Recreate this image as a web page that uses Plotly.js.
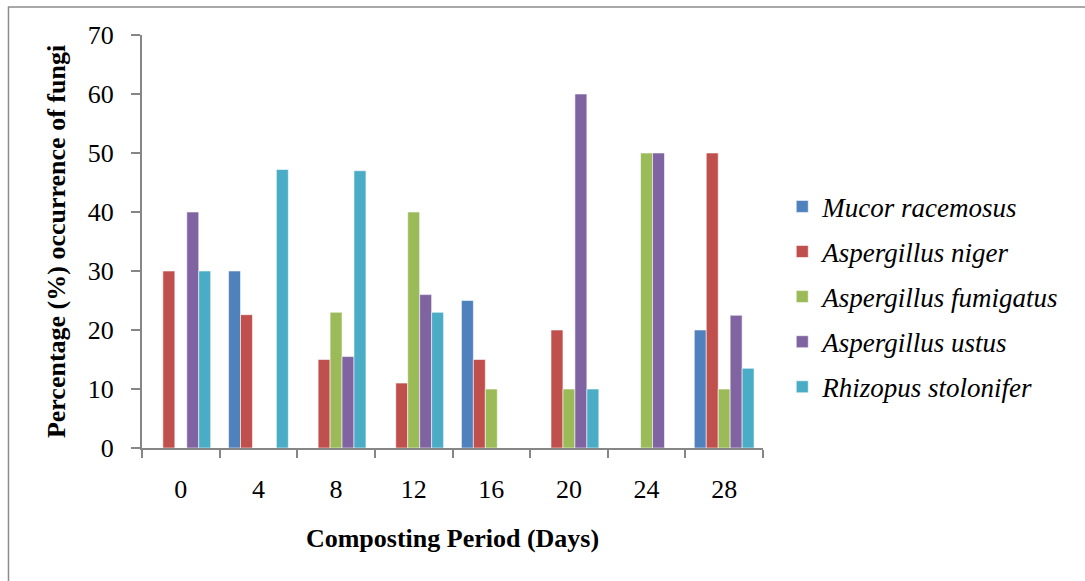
<!DOCTYPE html>
<html>
<head>
<meta charset="utf-8">
<script src="https://cdn.plot.ly/plotly-3.0.1.min.js"></script>
<style>
html,body{margin:0;padding:0;background:#fff;}
#chart{width:1085px;height:581px;}
</style>
</head>
<body>
<div id="chart"></div>
<script>
const days = ['0', '4', '8', '12', '16', '20', '24', '28'];
const seriesNames = ['Mucor racemosus', 'Aspergillus niger', 'Aspergillus fumigatus', 'Aspergillus ustus', 'Rhizopus stolonifer'];
const mucor = [0, 30, 0, 0, 25, 0, 0, 20];
const niger = [30, 22.6, 15, 11, 15, 20, 0, 50];
const fumigatus = [0, 0, 23, 40, 10, 10, 50, 10];
const ustus = [40, 0, 15.5, 26, 0, 60, 50, 22.5];
const rhizopus = [30, 47.2, 47, 23, 0, 10, 0, 13.5];
const yTicks = [0, 10, 20, 30, 40, 50, 60, 70];
const colors = ['#4F81BD', '#C0504D', '#9BBB59', '#8064A2', '#4BACC6'];

const values = [mucor, niger, fumigatus, ustus, rhizopus];
const serif = 'Liberation Serif';

const traces = values.map((v, i) => ({
  type: 'bar',
  name: '<i>' + seriesNames[i] + '</i>',
  x: days,
  y: v,
  legendgroup: 'g' + i,
  marker: {color: colors[i], line: {color: 'rgba(255,255,255,0.7)', width: 0.8}},
  hoverinfo: 'x+y+name'
}));

const layout = {
  width: 1085,
  height: 581,
  margin: {l: 142, r: 322, t: 35, b: 133},
  paper_bgcolor: '#ffffff',
  plot_bgcolor: '#ffffff',
  barmode: 'group',
  bargap: 0.23,
  bargroupgap: 0,
  font: {family: serif, size: 26, color: '#000'},
  xaxis: {
    type: 'category',
    showgrid: false,
    zeroline: false,
    showline: true,
    linecolor: '#868686',
    linewidth: 2,
    ticks: 'outside',
    tickson: 'boundaries',
    ticklen: 8,
    tickwidth: 2,
    tickcolor: '#868686',
    ticklabelstandoff: 17,
    tickfont: {family: serif, size: 26, color: '#000'},
    title: {text: 'Composting Period (Days)', font: {family: serif, size: 26, color: '#000', weight: 'bold'}, standoff: 26}
  },
  yaxis: {
    range: [0, 70],
    tickvals: yTicks,
    ticktext: yTicks.map(String),
    showgrid: false,
    zeroline: false,
    showline: true,
    linecolor: '#868686',
    linewidth: 2,
    ticks: 'outside',
    ticklen: 9,
    tickwidth: 2,
    tickcolor: '#868686',
    ticklabelstandoff: 12,
    tickfont: {family: serif, size: 26, color: '#000'},
    title: {text: 'Percentage (%) occurrence of fungi', font: {family: serif, size: 26, color: '#000', weight: 'bold'}, standoff: 15}
  },
  showlegend: true,
  legend: {
    x: 1.031,
    y: 0.366,
    xanchor: 'left',
    yanchor: 'middle',
    traceorder: 'grouped',
    tracegroupgap: 7,
    font: {family: serif, size: 27, color: '#000000'},
    bgcolor: 'rgba(0,0,0,0)',
    borderwidth: 0
  },
  shapes: [{
    type: 'rect', xref: 'paper', yref: 'paper',
    x0: -0.215, x1: 1.53, y0: -0.35, y1: 1.068,
    line: {color: '#8c8c8c', width: 1.5},
    fillcolor: 'rgba(0,0,0,0)',
    layer: 'below'
  }]
};

Plotly.newPlot('chart', traces, layout, {displayModeBar: false, staticPlot: true});
</script>
</body>
</html>
